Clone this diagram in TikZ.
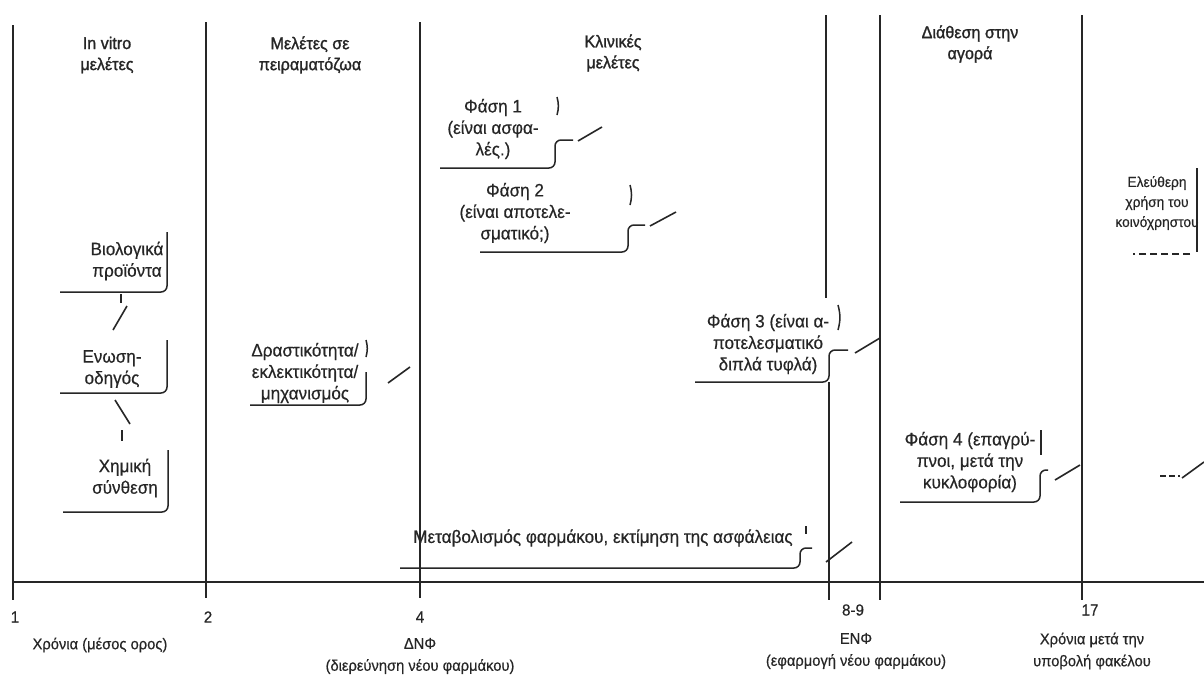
\documentclass[tikz,border=0pt]{standalone}
\usepackage{fontspec}
\setmainfont{Liberation Sans}[FakeStretch=0.95, FakeBold=0.4]
\newfontfamily\hdrfont{Liberation Sans}[FakeStretch=0.95, FakeBold=1.3]
\usetikzlibrary{calc}
\definecolor{ink}{HTML}{262626}
\tikzset{
  vline/.style={draw=ink, line width=1.6pt},
  axisline/.style={draw=ink, line width=1.6pt},
  boxline/.style={draw=ink, line width=1.5pt, rounded corners=6pt},
  slash/.style={draw=ink, line width=1.6pt},
  hdr/.style={font=\hdrfont\fontsize{17}{21}\selectfont, text=ink, align=center, inner sep=0pt},
  btxt/.style={font=\fontsize{18}{21.5}\selectfont, text=ink, align=center, inner sep=0pt},
  stxt/.style={font=\fontsize{14.5}{20}\selectfont, text=ink, align=center, inner sep=0pt},
  lbl/.style={font=\fontsize{15.5}{22}\selectfont, text=ink, align=center, inner sep=0pt},
  tick/.style={font=\fontsize{16}{18}\selectfont, text=ink, inner sep=0pt},
}
\begin{document}
\begin{tikzpicture}[x=1pt,y=-1pt]
\useasboundingbox[fill=white] (0,0) rectangle (1204,683);

% vertical lines
\coordinate (v1t) at (13,25);   \coordinate (v1b) at (13,600);
\coordinate (v2t) at (206,22);  \coordinate (v2b) at (206,598);
\coordinate (v3t) at (420,22);  \coordinate (v3b) at (420,598);
\coordinate (v4t) at (826,15);  \coordinate (v4m) at (826,298);
\coordinate (v4n) at (829,382); \coordinate (v4b) at (829,600);
\coordinate (v5t) at (880,15);  \coordinate (v5b) at (880,600);
\coordinate (v6t) at (1082,15); \coordinate (v6b) at (1082,600);
\draw[vline, line width=2.2pt] (v1t) -- (v1b);
\draw[vline] (v2t) -- (v2b);
\draw[vline] (v3t) -- (v3b);
\draw[vline] (v4t) -- (v4m);
\draw[vline] (v4n) -- (v4b);
\draw[vline] (v5t) -- (v5b);
\draw[vline] (v6t) -- (v6b);

% axis
\coordinate (axl) at (13,582); \coordinate (axr) at (1204,582);
\draw[axisline] (axl) -- (axr);

% headers
\node[hdr] (h1) at (107,55) {In vitro\\μελέτες};
\node[hdr] (h2) at (310,55) {Μελέτες σε\\πειραματόζωα};
\node[hdr] (h3) at (613,53) {Κλινικές\\μελέτες};
\node[hdr] (h4) at (970,44) {Διάθεση στην\\αγορά};

% tick labels
\node[tick] (t1) at (15,617) {1};
\node[tick] (t2) at (208,617) {2};
\node[tick] (t3) at (420,617) {4};
\node[tick] (t4) at (853,610) {8-9};
\node[tick] (t5) at (1090,610) {17};

% bottom labels
\node[lbl] (l1) at (100,645) {Χρόνια (μέσος ορος)};
\node[lbl] (l2) at (420,656) {ΔΝΦ\\(διερεύνηση νέου φαρμάκου)};
\node[lbl] (l3) at (856,651) {ΕΝΦ\\(εφαρμογή νέου φαρμάκου)};
\node[lbl] (l4) at (1092,651) {Χρόνια μετά την\\υποβολή φακέλου};

% left column boxes
\node[btxt] (bio) at (127,261) {Βιολογικά\\προϊόντα};
\draw[boxline] (167,232) -- (167,292) -- (60,292);
\node[btxt] (eno) at (112,369) {Ενωση-\\οδηγός};
\draw[boxline] (167,340) -- (167,393) -- (60,393);
\node[btxt] (chem) at (125,478) {Χημική\\σύνθεση};
\draw[boxline] (168,450) -- (168,512) -- (63,512);

\coordinate (c1a) at (121,294); \coordinate (c1b) at (121,303);
\coordinate (c1c) at (127,306); \coordinate (c1d) at (113,330);
\draw[slash] (c1a) -- (c1b);
\draw[slash] (c1c) -- (c1d);
\coordinate (c2a) at (115,400); \coordinate (c2b) at (130,424);
\coordinate (c2c) at (122,430); \coordinate (c2d) at (122,441);
\draw[slash] (c2a) -- (c2b);
\draw[slash] (c2c) -- (c2d);

% activity box
\node[btxt] (act) at (305,373) {Δραστικότητα/\\εκλεκτικότητα/\\μηχανισμός};
\draw[boxline] (366,340) to[bend left=15] (366,357);
\draw[boxline] (366,372) -- (366,405) -- (250,405);
\coordinate (s4a) at (388,383); \coordinate (s4b) at (410,367);
\draw[slash] (s4a) -- (s4b);

% phase 1
\node[btxt] (p1) at (493,129) {Φάση 1\\(είναι ασφα-\\λές.)};
\draw[boxline] (557,97) to[bend left=15] (557,115);
\draw[boxline] (573,140) -- (555,140) -- (555,168) -- (440,168);
\coordinate (s1a) at (578,141); \coordinate (s1b) at (602,127);
\draw[slash] (s1a) -- (s1b);

% phase 2
\node[btxt] (p2) at (515,213) {Φάση 2\\(είναι αποτελε-\\σματικό;)};
\draw[boxline] (630,185) to[bend left=15] (630,205);
\draw[boxline] (645,225) -- (628,225) -- (628,252) -- (480,252);
\coordinate (s2a) at (650,226); \coordinate (s2b) at (676,212);
\draw[slash] (s2a) -- (s2b);

% phase 3
\node[btxt] (p3) at (768,344) {Φάση 3 (είναι α-\\ποτελεσματικό\\διπλά τυφλά)};
\draw[boxline] (838,305) to[bend left=15] (838,330);
\draw[boxline] (848,350) -- (829,350) -- (829,382) -- (695,382);
\coordinate (s3a) at (855,353); \coordinate (s3b) at (880,338);
\draw[slash] (s3a) -- (s3b);

% phase 4
\node[btxt] (p4) at (970,462) {Φάση 4 (επαγρύ-\\πνοι, μετά την\\κυκλοφορία)};
\draw[boxline] (1041,430) -- (1041,455);
\draw[boxline] (1048,470) -- (1040,470) -- (1040,502) -- (900,502);
\coordinate (s5a) at (1055,480); \coordinate (s5b) at (1080,465);
\draw[slash] (s5a) -- (s5b);

% free use box
\node[stxt] (free) at (1157,203) {Ελεύθερη\\χρήση του\\κοινόχρηστου};
\draw[boxline] (1197,168) -- (1197,252);
\draw[boxline, dash pattern=on 7pt off 4pt] (1190,254) -- (1133,254);
\coordinate (s6a) at (1160,476); \coordinate (s6b) at (1180,476);
\coordinate (s6c) at (1182,478); \coordinate (s6d) at (1204,462);
\draw[boxline, dash pattern=on 6pt off 3pt] (s6a) -- (s6b);
\draw[slash] (s6c) -- (s6d);

% metabolism box
\node[btxt] (met) at (603,538) {Μεταβολισμός φαρμάκου, εκτίμηση της ασφάλειας};
\draw[boxline] (806,526) -- (806,534);
\draw[boxline] (812,548) -- (800,548) -- (800,568) -- (400,568);
\coordinate (s7a) at (826,562); \coordinate (s7b) at (852,542);
\draw[slash] (s7a) -- (s7b);
\end{tikzpicture}
\end{document}
